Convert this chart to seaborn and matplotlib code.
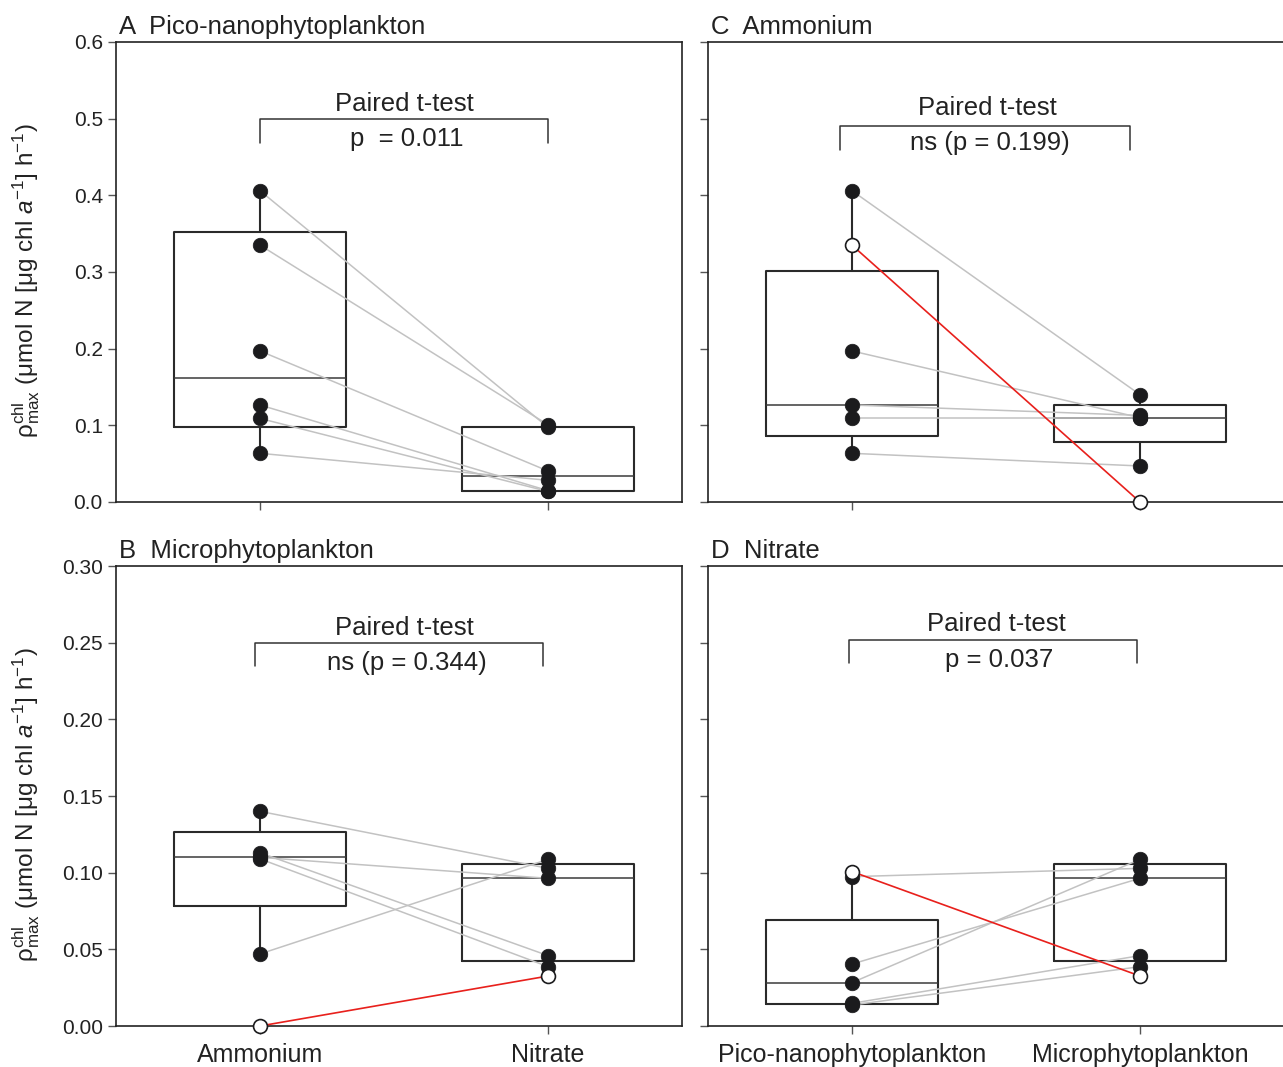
import numpy as np
import pandas as pd
import matplotlib
matplotlib.use('Agg')
import matplotlib.pyplot as plt
import seaborn as sns

# rho max values per station (umol N [ug chl a-1] h-1)
stations = ['S1', 'S2', 'S3', 'S4', 'S5', 'S6']
pico_nh4 = [0.406, 0.335, 0.197, 0.1265, 0.109, 0.0635]
micro_nh4 = [0.140, 0.0, 0.110, 0.113, 0.109, 0.047]
pico_no3 = [0.0974, 0.1007, 0.0404, 0.0148, 0.0137, 0.0283]
micro_no3 = [0.1028, 0.0326, 0.0963, 0.0459, 0.0387, 0.1087]
flagged = 'S2'  # open symbols, left out of the boxes

tests = {'A': 'p  = 0.011', 'B': 'ns (p = 0.344)', 'C': 'ns (p = 0.199)', 'D': 'p = 0.037'}

sns.set_style('ticks')
plt.rcParams['font.family'] = ['Liberation Sans', 'DejaVu Sans']
plt.rcParams['mathtext.fontset'] = 'custom'
plt.rcParams['mathtext.rm'] = 'Liberation Sans'
plt.rcParams['mathtext.it'] = 'Liberation Sans:italic'
plt.rcParams['mathtext.bf'] = 'Liberation Sans:bold'

W, H = 1283, 1067
fig = plt.figure(figsize=(W / 100, H / 100), dpi=100)

def box(l, t, r, b):
    return [l / W, 1 - b / H, (r - l) / W, (b - t) / H]

ax_a = fig.add_axes(box(116, 42, 682, 502))
ax_c = fig.add_axes(box(708, 42, 1284, 502))
ax_b = fig.add_axes(box(116, 566, 682, 1026))
ax_d = fig.add_axes(box(708, 566, 1284, 1026))

ylab = r'$\mathrm{\rho}^{\mathrm{chl}}_{\mathrm{max}}$ (μmol N [μg chl $a^{-1}$] h$^{-1}$)'

panels = [
    (ax_a, 'A', 'Pico-nanophytoplankton', ['Ammonium', 'Nitrate'], pico_nh4, pico_no3, False, 0.6, 0.1, '%.1f',
     (0.0, 1.0, 0.50, 0.468, 0.519, 0.473, 0.5)),
    (ax_b, 'B', 'Microphytoplankton', ['Ammonium', 'Nitrate'], micro_nh4, micro_no3, True, 0.30, 0.05, '%.2f',
     (-0.017, 0.983, 0.25, 0.235, 0.2596, 0.2367, 0.5)),
    (ax_c, 'C', 'Ammonium', ['Pico-nanophytoplankton', 'Microphytoplankton'], pico_nh4, micro_nh4, True, 0.6, 0.1, '%.1f',
     (-0.04, 0.965, 0.490, 0.459, 0.514, 0.468, 0.47)),
    (ax_d, 'D', 'Nitrate', ['Pico-nanophytoplankton', 'Microphytoplankton'], pico_no3, micro_no3, True, 0.30, 0.05, '%.2f',
     (-0.01, 0.99, 0.2517, 0.2367, 0.262, 0.239, 0.5)),
]

edge = '#2a2a2a'
for ax, letter, name, xlabels, left, right, flag, ymax, step, fmt, br in panels:
    df = pd.DataFrame({'station': stations * 2,
                       'pos': [0] * len(stations) + [1] * len(stations),
                       'val': left + right})
    df['open'] = flag & (df['station'] == flagged)

    # SigmaPlot style boxes: quartiles from (n+1)p ranks, whiskers to extremes
    stats = []
    for p in (0, 1):
        v = df.loc[(df['pos'] == p) & ~df['open'], 'val'].to_numpy()
        q1, med, q3 = np.percentile(v, [25, 50, 75], method='weibull')
        stats.append(dict(med=med, q1=q1, q3=q3, whislo=v.min(), whishi=v.max(), fliers=[]))
    ax.bxp(stats, positions=[0, 1], widths=0.6, showfliers=False, showcaps=False,
           boxprops=dict(color=edge, linewidth=1.5),
           whiskerprops=dict(color=edge, linewidth=1.5),
           medianprops=dict(color='#3a3a3a', linewidth=1.1), zorder=1)

    grey = df[~df['open']]
    sns.lineplot(data=grey, x='pos', y='val', units='station', estimator=None,
                 color='#c2c2c2', linewidth=1.1, ax=ax, legend=False, zorder=2, clip_on=False)
    if flag:
        sns.lineplot(data=df[df['open']], x='pos', y='val', units='station', estimator=None,
                     color='#e8201c', linewidth=1.2, ax=ax, legend=False, zorder=3, clip_on=False)
    sns.scatterplot(data=df[~df['open']], x='pos', y='val', color='#1b1b1d', edgecolor='#1b1b1d',
                    s=110, linewidth=0.5, ax=ax, legend=False, zorder=4, clip_on=False)
    if flag:
        sns.scatterplot(data=df[df['open']], x='pos', y='val', color='white', edgecolor='#1b1b1d',
                        s=100, linewidth=1.2, ax=ax, legend=False, zorder=5, clip_on=False)

    # bracket and test text
    x0, x1, yb, ye, yt1, yt2, xt = br
    ax.plot([x0, x0, x1, x1], [ye, yb, yb, ye], color='#333333', linewidth=1.1)
    ax.text(xt, yt1, 'Paired t-test', ha='center', va='center', fontsize=18.5, color='#222222')
    ax.text(xt + 0.01, yt2, tests[letter], ha='center', va='center', fontsize=18.5, color='#222222')

    ax.set_ylim(0, ymax)
    ax.set_yticks(np.arange(0, ymax + step / 2, step))
    ax.yaxis.set_major_formatter(matplotlib.ticker.FormatStrFormatter(fmt))
    ax.set_xticks([0, 1])
    ax.set_xticklabels(xlabels, fontsize=18)
    ax.set_xlabel('')
    ax.set_title(letter + '  ' + name, loc='left', fontsize=18.5, pad=6, x=0.005, color='#222222')
    ax.tick_params(axis='both', length=6, width=1, color='#555555', labelcolor='#222222')
    ax.tick_params(axis='y', labelsize=15)
    ax.tick_params(axis='x', pad=6)
    if ax in (ax_a, ax_c):
        ax.tick_params(axis='x', labelbottom=False)
    for s in ax.spines.values():
        s.set_color('#222222')
        s.set_linewidth(1.2)
    if ax in (ax_a, ax_b):
        ax.set_xlim(-0.5, 1.465)
        ax.set_ylabel(ylab, fontsize=17.5, color='#222222', va='center')
        ax.yaxis.set_label_coords(-0.158, 0.48)
    else:
        ax.set_xlim(-0.5, 1.5)
        ax.set_ylabel('')
        ax.tick_params(axis='y', labelleft=False)
        ax.spines['right'].set_visible(False)

fig.savefig('out.png', dpi=100)
